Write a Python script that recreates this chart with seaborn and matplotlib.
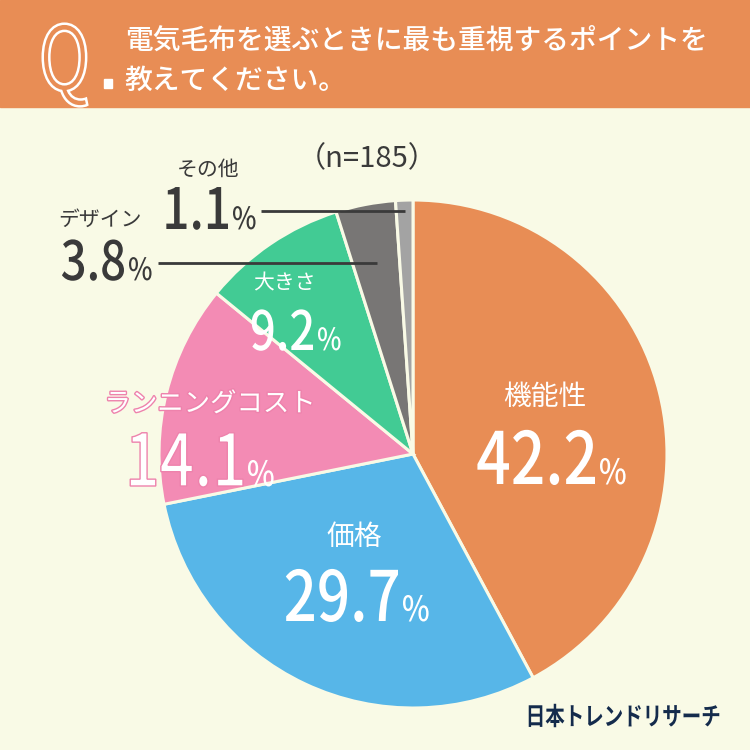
import numpy as np
import seaborn as sns
import matplotlib.pyplot as plt
import matplotlib.patheffects as pe
from matplotlib.patches import Rectangle, PathPatch
from matplotlib.textpath import TextPath
from matplotlib.font_manager import FontProperties
from matplotlib.transforms import Affine2D

sns.set_theme(style="white")
plt.rcParams["font.family"] = ["Noto Sans CJK JP", "DejaVu Sans"]

# data
categories = ["機能性", "価格", "ランニングコスト", "大きさ", "デザイン", "その他"]
percents = [42.2, 29.7, 14.1, 9.2, 3.8, 1.1]
colors = ["#E88D55", "#57B6E8", "#F38BB4", "#42CB94", "#787675", "#A3A3A3"]
n_total = 185

BG = "#F9FAE6"
HEADER = "#E88D55"
DARK = "#3A3A3A"
PINK_EDGE = "#EE82AC"
W = H = 750

fig = plt.figure(figsize=(7.5, 7.5), dpi=100)
fig.patch.set_facecolor(BG)


def P(x, y):
    return x / W, 1 - y / H


def ctext(x, y, s, size, color, sx=0.82, ha="left", weight="medium",
          edge="none", lw=0):
    # condensed text drawn as a path, (x, y) = pixel position of the baseline
    fp = FontProperties(family="Noto Sans CJK JP", weight=weight)
    path = TextPath((0, 0), s, size=size, prop=fp)
    ext = path.get_extents()
    k = fig.dpi / 72
    if ha == "right":
        dx = -ext.x1 * sx * k
    elif ha == "center":
        dx = -(ext.x0 + ext.x1) / 2 * sx * k
    else:
        dx = -ext.x0 * sx * k
    tr = Affine2D().scale(sx * k, k).translate(x + dx, H - y)
    fig.add_artist(PathPatch(path, transform=tr, facecolor=color,
                             edgecolor=edge, lw=lw, zorder=10))


# header band
fig.add_artist(Rectangle((0, 1 - 107 / H), 1, 107 / H, transform=fig.transFigure,
                         color=HEADER, zorder=0))
ctext(65, 90, "Q", 64, HEADER, sx=0.78, ha="center", weight="normal",
      edge="white", lw=1.8)
fig.add_artist(Rectangle(P(104, 88), 8 / W, 9 / H, transform=fig.transFigure,
                         color="white"))
fig.text(*P(125, 40), "電気毛布を選ぶときに最も重視するポイントを", fontsize=20,
         color="white", ha="left", va="center", fontweight="medium")
fig.text(*P(125, 80), "教えてください。", fontsize=20,
         color="white", ha="left", va="center", fontweight="medium")

# pie
cx, cy, r = 413, 454, 254
ax = fig.add_axes([cx / W - r / W, 1 - cy / H - r / H, 2 * r / W, 2 * r / H])
wedges, _ = ax.pie(percents, colors=colors, startangle=90, counterclock=False,
                   radius=1, wedgeprops=dict(edgecolor=BG, linewidth=2.2))
ax.set_xlim(-1, 1)
ax.set_ylim(-1, 1)
ax.axis("off")

# label layout (name center, number split x / baseline, sizes, color)
layout = {
    "機能性": dict(name=(545, 397), split=(595, 484), ns=20, ds=52, ps=25, c="white"),
    "価格": dict(name=(354, 537), split=(398, 621), ns=20, ds=50, ps=25, c="white"),
    "ランニングコスト": dict(name=(210, 404), split=(243, 486), ns=19, ds=52, ps=25, c="white"),
    "大きさ": dict(name=(284, 283), split=(313, 350), ns=15, ds=39, ps=22, c="white"),
    "デザイン": dict(name=(100, 220), split=(124, 280), ns=15, ds=39, ps=22, c=DARK),
    "その他": dict(name=(208, 170), split=(228, 229), ns=15, ds=41, ps=22, c=DARK),
}

for cat, val in zip(categories, percents):
    L = layout[cat]
    pink = cat == "ランニングコスト"
    fx = [pe.Stroke(linewidth=2, foreground=PINK_EDGE), pe.Normal()] if pink else None
    fig.text(*P(*L["name"]), cat, fontsize=L["ns"], color=L["c"], ha="center",
             va="center", path_effects=fx)
    sx, sy = L["split"]
    edge, lw = (PINK_EDGE, 1.0) if pink else ("none", 0)
    ctext(sx, sy, f"{val:.1f}", L["ds"], L["c"], sx=0.84, ha="right",
          edge=edge, lw=lw)
    ctext(sx + 5, sy, "%", L["ps"], L["c"], sx=0.85, ha="left")

# leader lines for the two small slices
leaders = {"デザイン": (158, 263), "その他": (261, 211)}
for cat, (lx, ly) in leaders.items():
    w = wedges[categories.index(cat)]
    mid = np.deg2rad((w.theta1 + w.theta2) / 2)
    y0 = (cy - ly) / r
    x0 = (lx - cx) / r
    x1 = y0 * np.cos(mid) / np.sin(mid)
    ax.plot([x0, x1], [y0, y0], color=DARK, lw=2, clip_on=False,
            solid_capstyle="butt", zorder=5)

fig.text(*P(367, 159), f"（n={n_total}）", fontsize=21, color=DARK,
         ha="center", va="center")

ctext(624, 725, "日本トレンドリサーチ", 18, "#142B4C", sx=0.78, ha="center",
      weight="bold")

fig.savefig("out.png", dpi=100, facecolor=BG)
